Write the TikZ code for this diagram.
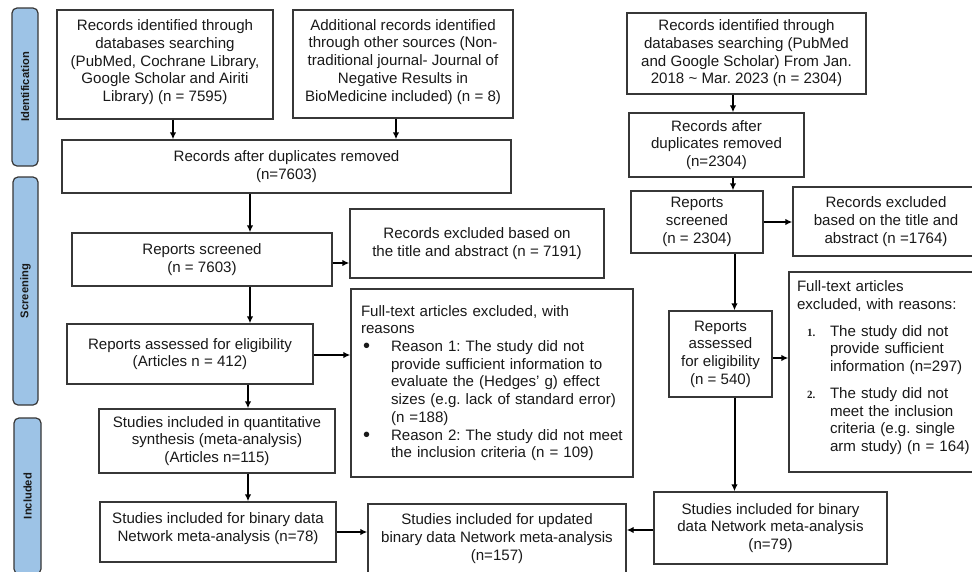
\documentclass[tikz,border=0pt]{standalone}
\usepackage{fontspec}
\setmainfont{Liberation Sans}
\newfontfamily\numfont{Liberation Serif}
\usetikzlibrary{arrows.meta}
\definecolor{barblue}{RGB}{157,195,230}
\definecolor{bordergray}{RGB}{55,55,55}
\definecolor{txt}{RGB}{25,25,25}
\newcommand{\bigbul}{{\fontsize{20}{17}\selectfont\raisebox{-1pt}{\textbullet}}}
\newcommand{\numlab}[1]{{\numfont\fontsize{11}{12}\selectfont\bfseries #1}}
\begin{document}
\frenchspacing
\begin{tikzpicture}[x=1pt,y=-1pt,
  box/.style={draw=bordergray, line width=1.4pt, fill=white, align=center, inner sep=0pt,
    text=txt, font=\fontsize{15.1}{17.7}\selectfont},
  lbox/.style={box, align=left},
  bar/.style={draw=bordergray, line width=1.2pt, fill=barblue, rounded corners=5pt, inner sep=0pt},
  bartext/.style={rotate=90, text=txt, font=\fontsize{11.2}{13}\selectfont\bfseries},
  arr/.style={line width=2pt, black, -{Latex[length=7pt,width=6.5pt]}}]
\path[use as bounding box] (0,0) rectangle (972,571);
\clip (0,0) rectangle (972,571);
\fill[white] (0,0) rectangle (972,571);

% side bars
\node[bar, minimum width=26pt, minimum height=158pt] (bid) at (25,87) {};
\node[bartext] (tid) at (bid.center) {Identification};
\node[bar, minimum width=25pt, minimum height=228pt] (bsc) at (25.5,291) {};
\node[bartext] (tsc) at (bsc.center) {Screening};
\node[bar, minimum width=27pt, minimum height=156pt] (bin) at (27.5,496) {};
\node[bartext] (tin) at (bin.center) {Included};

% left column
\node[box, minimum width=216pt, minimum height=109pt] (A1) at (165,64.5)
  {Records identified through\\databases searching\\(PubMed, Cochrane Library,\\Google Scholar and Airiti\\Library) (n = 7595)\\[-10pt]\mbox{}};
\node[box, minimum width=220pt, minimum height=108pt] (A2) at (403,64)
  {Additional records identified\\through other sources (Non-\\traditional journal- Journal of\\Negative Results in\\BioMedicine included) (n = 8)\\[-10pt]\mbox{}};
\node[box, minimum width=449pt, minimum height=53pt] (B) at (286.5,166.5)
  {Records after duplicates removed\\(n=7603)};
\node[box, minimum width=260pt, minimum height=53pt] (C) at (202,259.5)
  {Reports screened\\(n = 7603)};
\node[box, minimum width=246pt, minimum height=60pt] (D) at (190,354)
  {Reports assessed for eligibility\\(Articles n = 412)};
\node[box, minimum width=254pt, minimum height=69pt] (E) at (477,243.5)
  {Records excluded based on\\the title and abstract (n = 7191)};
\node[lbox, minimum height=188pt, text width=262pt, inner xsep=10pt] (F) at (492,383)
  {Full-text articles excluded, with\\reasons\\
   \hspace*{2pt}\makebox[28pt][l]{\bigbul}Reason 1: The study did not\\
   \hspace*{30pt}provide sufficient information to\\
   \hspace*{30pt}evaluate the (Hedges' g) effect\\
   \hspace*{30pt}sizes (e.g. lack of standard error)\\
   \hspace*{30pt}(n =188)\\
   \hspace*{2pt}\makebox[28pt][l]{\bigbul}Reason 2: The study did not meet\\
   \hspace*{30pt}the inclusion criteria (n = 109)};
\node[box, minimum width=236pt, minimum height=64pt] (G) at (217,441)
  {Studies included in quantitative\\synthesis (meta-analysis)\\(Articles n=115)};
\node[box, minimum width=236pt, minimum height=60pt] (H) at (218,532)
  {Studies included for binary data\\Network meta-analysis (n=78)\\[-8pt]\mbox{}};
\node[box, minimum width=258pt, minimum height=69pt] (I) at (497,538.5)
  {Studies included for updated\\binary data Network meta-analysis\\(n=157)};

% right column
\node[box, minimum width=239pt, minimum height=81pt] (R1) at (746.5,53.5)
  {Records identified through\\databases searching (PubMed\\and Google Scholar) From Jan.\\2018 \textasciitilde{} Mar. 2023 (n = 2304)};
\node[box, minimum width=175pt, minimum height=64pt] (R2) at (716.5,145)
  {Records after\\duplicates removed\\(n=2304)};
\node[box, minimum width=132pt, minimum height=62pt] (R3) at (697,222)
  {Reports\\screened\\(n = 2304)};
\node[box, minimum width=186pt, minimum height=69pt] (R4) at (886,221.5)
  {Records excluded\\based on the title and\\abstract (n =1764)};
\node[box, minimum width=103pt, minimum height=86pt] (R5) at (720.5,354)
  {Reports\\assessed\\for eligibility\\(n = 540)};
\node[lbox, minimum height=200pt, text width=186pt, inner xsep=8pt] (R6) at (890,372)
  {Full-text articles\\excluded, with reasons:\\[9pt]
   \hspace*{10pt}\makebox[23pt][l]{\numlab{1.}}The study did not\\
   \hspace*{33pt}provide sufficient\\
   \hspace*{33pt}information (n=297)\\[9pt]
   \hspace*{10pt}\makebox[23pt][l]{\numlab{2.}}The study did not\\
   \hspace*{33pt}meet the inclusion\\
   \hspace*{33pt}criteria (e.g. single\\
   \hspace*{33pt}arm study) (n = 164)\\[-6pt]\mbox{}};
\node[box, minimum width=233pt, minimum height=72pt] (R7) at (770.5,528)
  {Studies included for binary\\data Network meta-analysis\\(n=79)};

% arrow guide coordinates
\coordinate (xa1) at (173,0);
\coordinate (xa2) at (396,0);
\coordinate (xl) at (250,0);
\coordinate (xg) at (248,0);
\coordinate (yce) at (0,263);
\coordinate (ydf) at (0,355);
\coordinate (yhi) at (0,532);
\coordinate (yri) at (0,530);
\coordinate (xr) at (733,0);
\coordinate (xr2) at (734.5,0);
\coordinate (yr34) at (0,222);
\coordinate (yr56) at (0,358);

% left arrows
\draw[arr] (xa1 |- A1.south) -- (xa1 |- B.north);
\draw[arr] (xa2 |- A2.south) -- (xa2 |- B.north);
\draw[arr] (xl |- B.south) -- (xl |- C.north);
\draw[arr] (xl |- C.south) -- (xl |- D.north);
\draw[arr] (C.east |- yce) -- (E.west |- yce);
\draw[arr] (D.east |- ydf) -- (F.west |- ydf);
\draw[arr] (xg |- D.south) -- (xg |- G.north);
\draw[arr] (xg |- G.south) -- (xg |- H.north);
\draw[arr] (H.east |- yhi) -- (I.west |- yhi);

% right arrows
\draw[arr] (xr |- R1.south) -- (xr |- R2.north);
\draw[arr] (xr |- R2.south) -- (xr |- R3.north);
\draw[arr] (R3.east |- yr34) -- (R4.west |- yr34);
\draw[arr] (xr2 |- R3.south) -- (xr2 |- R5.north);
\draw[arr] (R5.east |- yr56) -- (R6.west |- yr56);
\draw[arr] (xr2 |- R5.south) -- (xr2 |- R7.north);
\draw[arr] (R7.west |- yri) -- (I.east |- yri);
\end{tikzpicture}
\end{document}
